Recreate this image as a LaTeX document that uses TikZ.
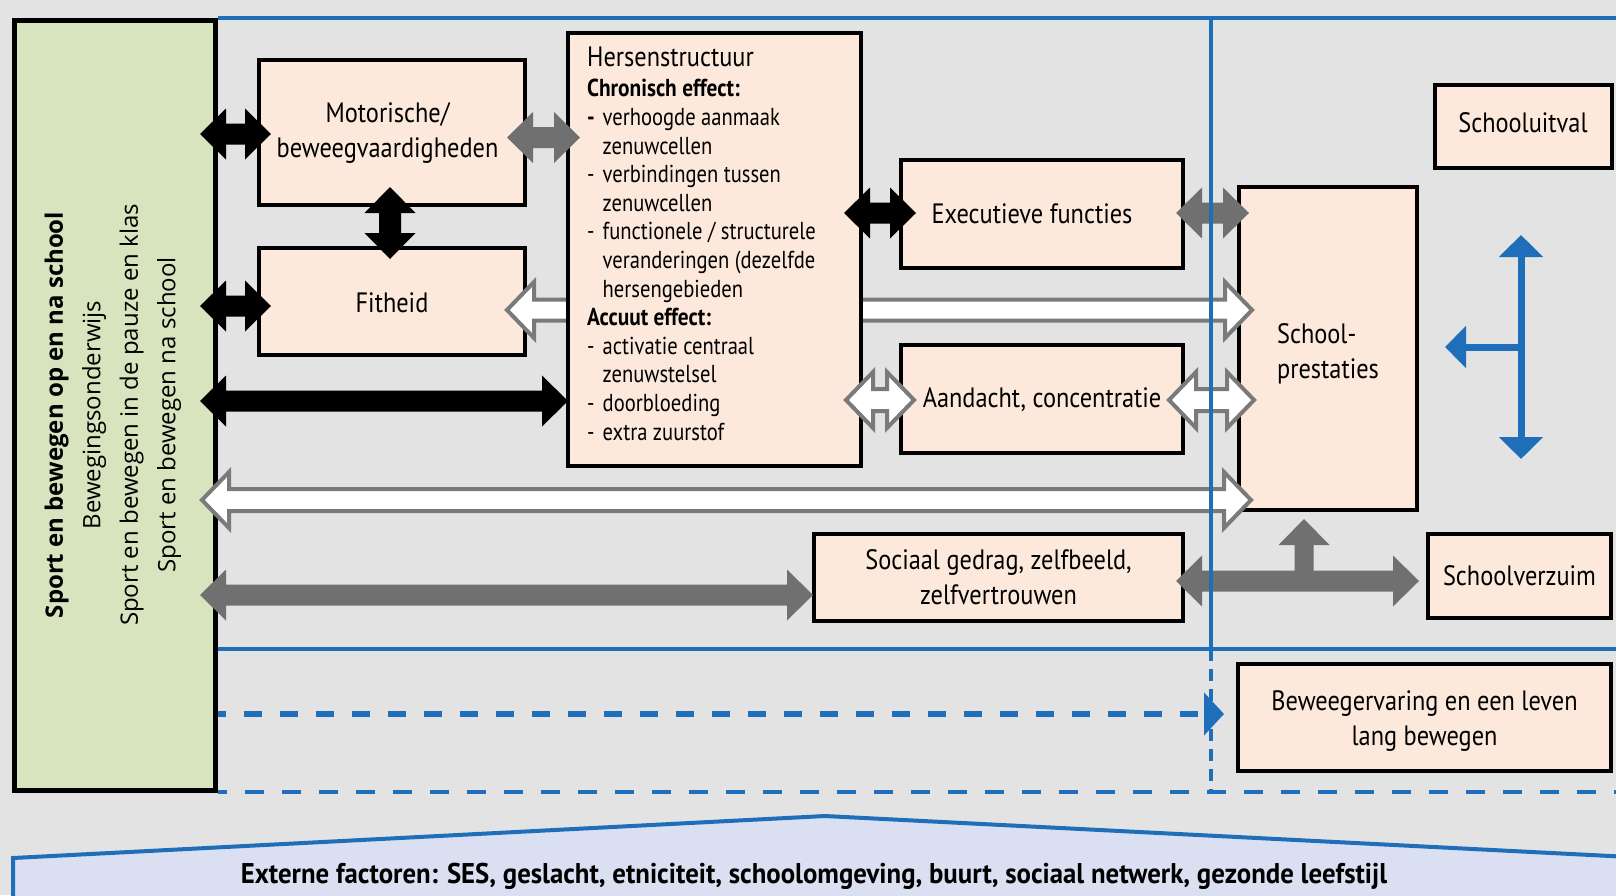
\documentclass[tikz,border=0pt]{standalone}
\usepackage{fontspec}
\setmainfont{PT Sans}[FakeStretch=0.87]
\newfontfamily\listfont{PT Sans}[FakeStretch=0.84, BoldFeatures={FakeStretch=0.87}]
\newfontfamily\extfont{PT Sans}[FakeStretch=0.94]
\newfontfamily\greenfont{Open Sans}
\usetikzlibrary{calc,arrows.meta}
\definecolor{bg}{HTML}{E3E3E3}
\definecolor{peach}{HTML}{FCE9DC}
\definecolor{greenfill}{HTML}{D7E4BE}
\definecolor{bluel}{HTML}{1E6EB9}
\definecolor{arrgray}{HTML}{707070}
\definecolor{outgray}{HTML}{7A7A7A}
\definecolor{lav}{HTML}{DAE0F2}
\def\AHL{26pt}\def\AHW{25.5pt}\def\ASW{10.5pt}
\newcommand{\mv}[2]{\raisebox{#1}[\height][\depth]{#2}}
% horizontal double block arrow (start left, end right)
\newcommand{\harrow}[3][]{%
  \path[#1] let \p1=(#2), \p2=(#3) in
   (\x1,\y1) -- (\x1+\AHL,\y1+\AHW) -- (\x1+\AHL,\y1+\ASW) -- (\x2-\AHL,\y1+\ASW)
   -- (\x2-\AHL,\y1+\AHW) -- (\x2,\y1) -- (\x2-\AHL,\y1-\AHW) -- (\x2-\AHL,\y1-\ASW)
   -- (\x1+\AHL,\y1-\ASW) -- (\x1+\AHL,\y1-\AHW) -- cycle;}
% vertical double block arrow (start top, end bottom)
\newcommand{\varrow}[3][]{%
  \path[#1] let \p1=(#2), \p2=(#3) in
   (\x1,\y1) -- (\x1+\AHW,\y1-\AHL) -- (\x1+\ASW,\y1-\AHL) -- (\x1+\ASW,\y2+\AHL)
   -- (\x1+\AHW,\y2+\AHL) -- (\x1,\y2) -- (\x1-\AHW,\y2+\AHL) -- (\x1-\ASW,\y2+\AHL)
   -- (\x1-\ASW,\y1-\AHL) -- (\x1-\AHW,\y1-\AHL) -- cycle;}
% single upward block arrow (base bottom, tip top)
\newcommand{\uarrow}[3][]{%
  \path[#1] let \p1=(#2), \p2=(#3) in
   (\x2,\y2) -- (\x2+\AHW,\y2-\AHL) -- (\x2+\ASW,\y2-\AHL) -- (\x2+\ASW,\y1)
   -- (\x2-\ASW,\y1) -- (\x2-\ASW,\y2-\AHL) -- (\x2-\AHW,\y2-\AHL) -- cycle;}
\tikzset{
  box/.style={draw=black, line width=4pt, fill=peach, inner sep=0pt, align=center,
    font=\fontsize{28}{35}\selectfont},
  blkarrow/.style={fill=black},
  grayarrow/.style={fill=arrgray},
  whitearrow/.style={fill=white, draw=outgray, line width=4pt, line join=miter},
  blueline/.style={draw=bluel, line width=4pt},
}
\begin{document}
\begin{tikzpicture}[x=1pt,y=-1pt]
\useasboundingbox (0,0) rectangle (1616,895);
\fill[bg] (0,0) rectangle (1616,895);
% external factors banner
\draw[fill=lav, draw=bluel, line width=4pt] (13,910) -- (13,858) -- (825,816) -- (1630,857) -- (1630,910) -- cycle;
\node[font=\extfont\bfseries\fontsize{28.5}{30}\selectfont] (ext) at (814,876)
  {Externe factoren: SES, geslacht, etniciteit, schoolomgeving, buurt, sociaal netwerk, gezonde leefstijl};
% frame lines
\draw[blueline] (218,18) -- (1620,18);
\draw[blueline] (218,649) -- (1620,649);
\draw[blueline, dash pattern=on 19pt off 18pt, dash phase=10pt] (218,792) -- (1620,792);
% green box
\node[draw=black, line width=5pt, fill=greenfill, minimum width=201pt, minimum height=770pt, inner sep=0pt] (green) at (115,405.5) {};
\node[rotate=90, align=center, font=\greenfont\fontsize{24}{37.5}\selectfont] (greentext) at (113,415)
  {\textbf{Sport en bewegen op en na school}\\Bewegingsonderwijs\\Sport en bewegen in de pauze en klas\\Sport en bewegen na school};
% boxes
\node[box, minimum width=266pt, minimum height=145pt] (mot) at (392,132.5) {Motorische/\hspace*{9pt}\\beweegvaardigheden\hspace*{9pt}};
\node[box, minimum width=266pt, minimum height=107pt] (fit) at (392,301.5) {\mv{-1pt}{Fitheid}};
\node[box, minimum width=282pt, minimum height=108pt] (exe) at (1042,214) {Executieve functies\hspace*{20pt}};
\node[box, minimum width=282pt, minimum height=108pt] (aan) at (1042,399) {\mv{-1pt}{Aandacht, concentratie}};
\node[box, minimum width=177pt, minimum height=83pt] (uit) at (1523,126) {\mv{3.5pt}{Schooluitval}};
\node[box, minimum width=178pt, minimum height=323pt] (pres) at (1328,348.5)
  {\mv{-5pt}{\begin{tabular}{@{}l@{}}School-\\prestaties\end{tabular}}};
\node[box, minimum width=369pt, minimum height=87pt] (soc) at (998.5,577.5) {Sociaal gedrag, zelfbeeld,\\zelfvertrouwen};
\node[box, minimum width=183pt, minimum height=84pt] (verz) at (1519.5,576) {Schoolverzuim};
\node[box, minimum width=373pt, minimum height=107pt] (bew) at (1424.5,717.5)
  {\mv{-3pt}{\begin{tabular}{@{}c@{}}Beweegervaring en een leven\\lang bewegen\end{tabular}}};
% white arrow Fitheid <-> School-prestaties (passes behind Hersenstructuur)
{\def\AHL{27pt}\def\AHW{28pt}\def\ASW{10.5pt}
\harrow[whitearrow]{$(fit.east)+(-20,8.5)$}{$(fit.east -| pres.west)+(15,8.5)$}}
% Hersenstructuur
\node[box, minimum width=293pt, minimum height=433pt] (hers) at (714.5,249.5) {};
\node[anchor=north west, align=left, inner sep=0pt, font=\listfont\fontsize{24.5}{28.6}\selectfont] (herstext) at ($(hers.north west)+(21,16)$)
  {{\normalfont\fontsize{28}{28.6}\selectfont Hersenstructuur}\\[1.4pt]
   \textbf{Chronisch effect:}\\
   \makebox[15.5pt][l]{\textbf{-}}verhoogde aanmaak\\
   \hspace*{15.5pt}zenuwcellen\\
   \makebox[15.5pt][l]{-}verbindingen tussen\\
   \hspace*{15.5pt}zenuwcellen\\
   \makebox[15.5pt][l]{-}functionele / structurele\\
   \hspace*{15.5pt}veranderingen (dezelfde\\
   \hspace*{15.5pt}hersengebieden\\
   \textbf{Accuut effect:}\\
   \makebox[15.5pt][l]{-}activatie centraal\\
   \hspace*{15.5pt}zenuwstelsel\\
   \makebox[15.5pt][l]{-}doorbloeding\\
   \makebox[15.5pt][l]{-}extra zuurstof};
% black arrows
\harrow[blkarrow]{$(green.east |- mot.west)+(-18,1.5)$}{$(mot.west)+(14,1.5)$}
\harrow[blkarrow]{$(green.east |- fit.west)+(-18,4.5)$}{$(fit.west)+(14,4.5)$}
\harrow[blkarrow]{$(green.east)+(-18,-4.5)$}{$(green.east -| hers.west)+(2,-4.5)$}
{\def\ASW{11pt}\varrow[blkarrow]{$(mot.south)+(-2,-20)$}{$(fit.north)+(-2,13)$}}
\harrow[blkarrow]{$(exe.west -| hers.east)+(-19,-1)$}{$(exe.west)+(17,-1)$}
% gray arrows
\harrow[grayarrow]{$(mot.east)+(-20,5)$}{$(mot.east -| hers.west)+(14,5)$}
\harrow[grayarrow]{$(exe.east)+(-9,-1)$}{$(exe.east -| pres.west)+(12,-1)$}
\harrow[grayarrow]{$(green.east |- soc.west)+(-18,17.5)$}{$(soc.west)+(1,17.5)$}
\harrow[grayarrow]{$(soc.east)+(-9,3.5)$}{$(soc.east -| verz.west)+(-7,3.5)$}
{\def\ASW{9.5pt}\uarrow[grayarrow]{$(pres.south)+(-24,69)$}{$(pres.south)+(-24,7)$}}
% white arrows
{\def\AHL{27pt}\def\AHW{28pt}\def\ASW{11pt}
\harrow[whitearrow]{$(aan.west -| hers.east)+(-17,1)$}{$(aan.west)+(15,1)$}
\harrow[whitearrow]{$(aan.east)+(-16,1)$}{$(aan.east -| pres.west)+(17,1)$}
\harrow[whitearrow]{$(green.east)+(-16,94.5)$}{$(green.east -| pres.west)+(14,94.5)$}}
% divider
\draw[blueline] (1211,18) -- (1211,649);
\draw[blueline, dash pattern=on 12pt off 8pt] (1211,649) -- (1211,792);
% dashed arrow to Beweegervaring
\draw[draw=bluel, line width=6pt, dash pattern=on 18pt off 18pt, dash phase=10pt, -{Triangle[width=42pt,length=20pt]}]
  ($(green.east)+(0,308.5)$) -- ($(bew.west)+(-12,-3.5)$);
% blue T arrow
\coordinate (bt) at (1521,235);
\coordinate (bb) at (1521,459);
\coordinate (bm) at (1521,347);
\coordinate (bl) at (1445,347);
\draw[draw=bluel, line width=7pt, {Triangle[width=43pt,length=22pt]}-{Triangle[width=43pt,length=22pt]}] (bt) -- (bb);
\draw[draw=bluel, line width=7pt, -{Triangle[width=41pt,length=21pt]}] (bm) -- (bl);
\end{tikzpicture}
\end{document}
